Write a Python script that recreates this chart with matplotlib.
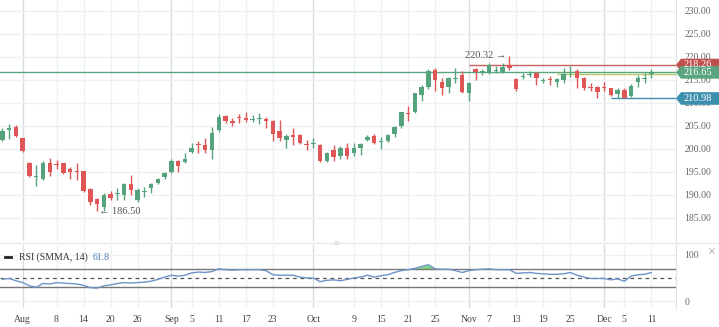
import numpy as np
import matplotlib
matplotlib.use("Agg")
from matplotlib import pyplot as plt
from matplotlib import transforms
from matplotlib.patches import Polygon
from matplotlib.lines import Line2D

plt.rcParams['font.family'] = ['Liberation Serif', 'DejaVu Serif']

# daily candles, 29 Jul - 11 Dec (one per trading session)
opens = [201.96, 204.07, 204.85, 202.33, 197.02, 193.91, 193.48, 196.89, 196.74, 196.89,
         195.65, 195.22, 195.22, 191.30, 189.13, 187.46, 190.15, 190.15, 190.00, 192.33,
         188.91, 190.65, 191.46, 192.54, 193.85, 195.07, 197.39, 197.24, 199.41, 201.02,
         200.87, 199.78, 204.13, 207.17, 206.09, 207.02, 206.80, 206.30, 206.52, 206.52,
         206.15, 203.91, 201.96, 203.04, 203.04, 201.02, 201.02, 200.87, 197.40, 199.78,
         198.48, 200.15, 199.07, 200.15, 201.96, 202.83, 201.46, 201.74, 203.26, 205.07,
         207.76, 207.98, 211.74, 213.54, 217.17, 214.50, 213.41, 215.15, 216.09, 212.11,
         217.33, 216.46, 216.46, 216.98, 216.80, 218.26, 215.15, 215.60, 216.02, 216.59,
         214.78, 215.15, 214.50, 215.00, 216.46, 216.96, 215.37, 213.54, 213.54, 213.48,
         213.20, 211.89, 212.83, 211.59, 214.63, 215.28, 216.30]
highs = [204.50, 205.37, 205.22, 202.46, 197.24, 196.52, 197.39, 197.98, 197.61, 197.00,
         196.15, 196.89, 195.30, 191.46, 189.28, 190.37, 190.93, 191.46, 192.54, 194.35,
         191.46, 191.80, 192.54, 193.76, 195.07, 197.76, 197.61, 199.07, 201.24, 201.80,
         202.33, 204.85, 207.50, 207.39, 206.80, 207.61, 208.11, 207.39, 207.76, 207.02,
         206.30, 206.30, 203.20, 204.63, 203.20, 201.96, 202.33, 201.00, 199.40, 200.87,
         200.65, 201.37, 201.24, 201.24, 203.04, 203.26, 202.67, 203.26, 205.00, 208.11,
         209.35, 212.24, 213.91, 217.33, 217.54, 215.37, 215.72, 217.54, 217.02, 214.63,
         217.54, 217.33, 218.63, 218.04, 218.63, 220.32, 215.37, 216.46, 217.02, 216.80,
         215.37, 215.93, 215.50, 217.54, 218.11, 217.39, 215.72, 214.28, 213.70, 214.63,
         213.33, 213.20, 213.20, 214.07, 216.09, 216.46, 217.39]
lows = [201.74, 202.17, 202.67, 199.41, 193.98, 191.96, 193.26, 194.13, 195.59, 194.50,
        193.48, 193.26, 190.72, 187.83, 186.50, 186.60, 188.91, 188.91, 188.91, 190.00,
        188.54, 189.63, 190.50, 192.39, 193.41, 194.85, 195.07, 196.89, 199.20, 199.07,
        199.20, 197.76, 203.60, 205.59, 205.00, 205.59, 205.80, 205.80, 205.37, 204.63,
        201.80, 201.80, 200.28, 200.87, 201.02, 199.78, 200.28, 197.24, 197.20, 197.46,
        197.76, 197.83, 198.54, 198.70, 201.80, 201.09, 199.93, 201.50, 202.67, 204.63,
        206.09, 207.76, 210.50, 212.98, 212.67, 211.74, 212.24, 214.28, 212.11, 210.50,
        215.00, 216.09, 216.30, 216.46, 216.59, 217.17, 212.67, 215.15, 215.72, 213.91,
        214.41, 213.91, 213.54, 214.28, 215.72, 213.20, 212.83, 212.61, 211.15, 212.61,
        211.59, 211.02, 210.98, 211.37, 213.54, 214.28, 215.50]
closes = [203.91, 204.63, 202.83, 199.57, 194.20, 194.13, 196.89, 195.07, 196.52, 194.72,
          195.07, 195.07, 190.93, 188.41, 187.98, 190.00, 189.41, 190.37, 192.33, 191.09,
          191.09, 190.93, 192.33, 193.54, 194.72, 197.39, 196.30, 197.83, 200.28, 200.87,
          199.78, 203.41, 207.00, 206.09, 205.59, 206.80, 206.30, 206.52, 206.80, 206.09,
          203.26, 202.33, 202.83, 202.67, 201.24, 200.80, 201.24, 197.39, 199.10, 198.33,
          200.15, 198.54, 200.28, 201.09, 202.67, 201.37, 201.74, 203.04, 204.85, 207.98,
          207.54, 212.11, 213.41, 216.96, 215.00, 213.33, 215.37, 215.37, 212.46, 214.28,
          216.80, 216.96, 218.26, 217.20, 217.89, 217.54, 212.98, 215.87, 216.24, 215.37,
          215.00, 214.93, 215.15, 216.24, 216.80, 215.50, 213.20, 213.20, 212.46, 213.20,
          211.74, 212.83, 211.15, 213.76, 215.50, 215.50, 216.65]
rsi = [47, 49, 44, 40, 33, 30, 38, 37, 40, 39,
       38, 37, 34, 29, 28, 33, 35, 38, 40, 39,
       40, 41, 43, 47, 52, 56, 54, 56, 61, 63,
       62, 64, 70, 68, 67, 68, 68, 68, 68, 66,
       57, 56, 56, 56, 52, 50, 50, 42, 45, 46,
       44, 47, 50, 52, 56, 52, 55, 57, 62, 66,
       68, 71, 75, 79, 70, 69, 69, 66, 62, 66,
       68, 69, 70, 68, 68, 68, 60, 61, 62, 60,
       59, 58, 58, 59, 62, 56, 52, 49, 49, 49,
       46, 48, 43, 54, 57, 58, 61.8]

tick_idx = [3, 8, 12, 16, 20, 25, 28, 32, 36, 40, 46, 52, 56, 60, 64, 69, 72, 76, 80, 84, 89, 92, 96]
tick_lbl = ['Aug', '8', '14', '20', '26', 'Sep', '5', '11', '17', '23', 'Oct', '9', '15', '21', '25',
            'Nov', '7', '13', '19', '25', 'Dec', '5', '11']
month_idx = [3, 25, 46, 69, 89]

UP = '#55a37c'
DOWN = '#e05656'
W, H = 719, 327

fig = plt.figure(figsize=(W / 100, H / 100), dpi=100)
ax = fig.add_axes([0, 1 - 241 / H, 676 / W, 241 / H])
rx = fig.add_axes([0, 1 - 308 / H, 676 / W, 63 / H])
xl = (-0.36, 99.64)

# grid
for a in (ax, rx):
    a.set_xlim(*xl)
    for i in tick_idx:
        a.axvline(i, color='#d9dcdf' if i in month_idx else '#eef0f2', lw=1, zorder=0)
    for s in ['top', 'left', 'bottom']:
        a.spines[s].set_visible(False)
    a.spines['right'].set_color('#dfe2e5')
    a.tick_params(length=0, labelsize=7, colors='#666666')
    a.yaxis.tick_right()

ax.set_ylim(180.0, 232.39)
price_ticks = np.arange(185, 231, 5)
ax.set_yticks(price_ticks)
ax.set_yticklabels(['{:.2f}'.format(t) for t in price_ticks])
ax.tick_params(axis='y', pad=6)
ax.set_xticks([])
for t in price_ticks:
    ax.axhline(t, color='#eef0f2', lw=1, zorder=0)

# candles
idx = np.arange(len(opens))
o = np.array(opens)
c = np.array(closes)
cols = np.where(c >= o, UP, DOWN)
ax.vlines(idx, lows, highs, colors=cols, lw=1, zorder=3)
ax.bar(idx, np.maximum(np.abs(c - o), 0.22), bottom=np.minimum(o, c), width=0.66,
       color=cols, linewidth=0, zorder=4)

# price lines
ax.axhline(216.65, color='#5aa57f', lw=1, zorder=2)
ax.hlines(218.26, 69, xl[1], color='#c9605e', lw=1, zorder=2)
ax.hlines(216.4, 82, xl[1], color='#b9c96a', lw=1, zorder=2)
ax.hlines(210.98, 90, xl[1], color='#3d8fae', lw=1, zorder=2)

ax.text(74.6, 220.32, '220.32 \u2192', ha='right', va='center', fontsize=7.5, color='#555555', zorder=5)
ax.text(14.3, 186.5, '\u2190 186.50', ha='left', va='center', fontsize=7.5, color='#555555', zorder=5)

# price tags on the right axis (they sit over the tick labels, as in the terminal)
blend = transforms.blended_transform_factory(fig.transFigure, ax.transData)
hh = 6.3 / 4.6
for val, col in [(218.26, '#c0504d'), (216.65, '#5aa57f'), (210.98, '#3d8fae')]:
    pts = [(676 / W, val), (681 / W, val + hh), (1, val + hh), (1, val - hh), (681 / W, val - hh)]
    fig.add_artist(Polygon(pts, closed=True, transform=blend, fc=col, ec='none', zorder=5))
    fig.text(698 / W, val, '{:.2f}'.format(val), transform=blend, ha='center', va='center',
             fontsize=7.5, color='white', zorder=6)

# RSI panel
rx.set_ylim(-15.2, 121.7)
rx.set_yticks([0, 100])
rx.set_yticklabels(['0', '100'])
rx.tick_params(axis='y', pad=6)
rx.axhline(0, color='#eef0f2', lw=1, zorder=0)
rx.axhline(100, color='#eef0f2', lw=1, zorder=0)
rx.axhline(70, color='#777777', lw=1)
rx.axhline(30, color='#777777', lw=1)
rx.axhline(50, color='#555555', lw=0.9, ls=(0, (3, 3)))
r = np.array(rsi)
rx.fill_between(idx, r, 70, where=r > 70, interpolate=True, color='#7fd67f', lw=0)
rx.plot(idx, r, color='#6f93c9', lw=1)
rx.set_xticks(tick_idx)
rx.set_xticklabels(tick_lbl)
rx.tick_params(axis='x', pad=5, colors='#444444')

# panel header and separator
fig.add_artist(Line2D([0, 1], [1 - 243 / H, 1 - 243 / H], color='#e8e8e8', lw=1))
fig.text(336 / W, 1 - 243 / H, '\u2261', ha='center', va='center', fontsize=7, color='#d0d0d0')
fig.add_artist(Line2D([5 / W, 11 / W], [1 - 257 / H, 1 - 257 / H], color='#222222', lw=2))
name = fig.text(19 / W, 1 - 257 / H, 'RSI (SMMA, 14)', ha='left', va='center',
                fontsize=7, color='#333333')
# put the value right after the indicator name
fig.canvas.draw()
bb = name.get_window_extent()
fig.text((bb.x1 + 5) / W, 1 - 257 / H, '61.8', ha='left', va='center', fontsize=7, color='#4a78b5')
fig.text(712 / W, 1 - 253 / H, '\u00d7', ha='center', va='center', fontsize=10, color='#999999')

fig.savefig('out.png', dpi=100)
